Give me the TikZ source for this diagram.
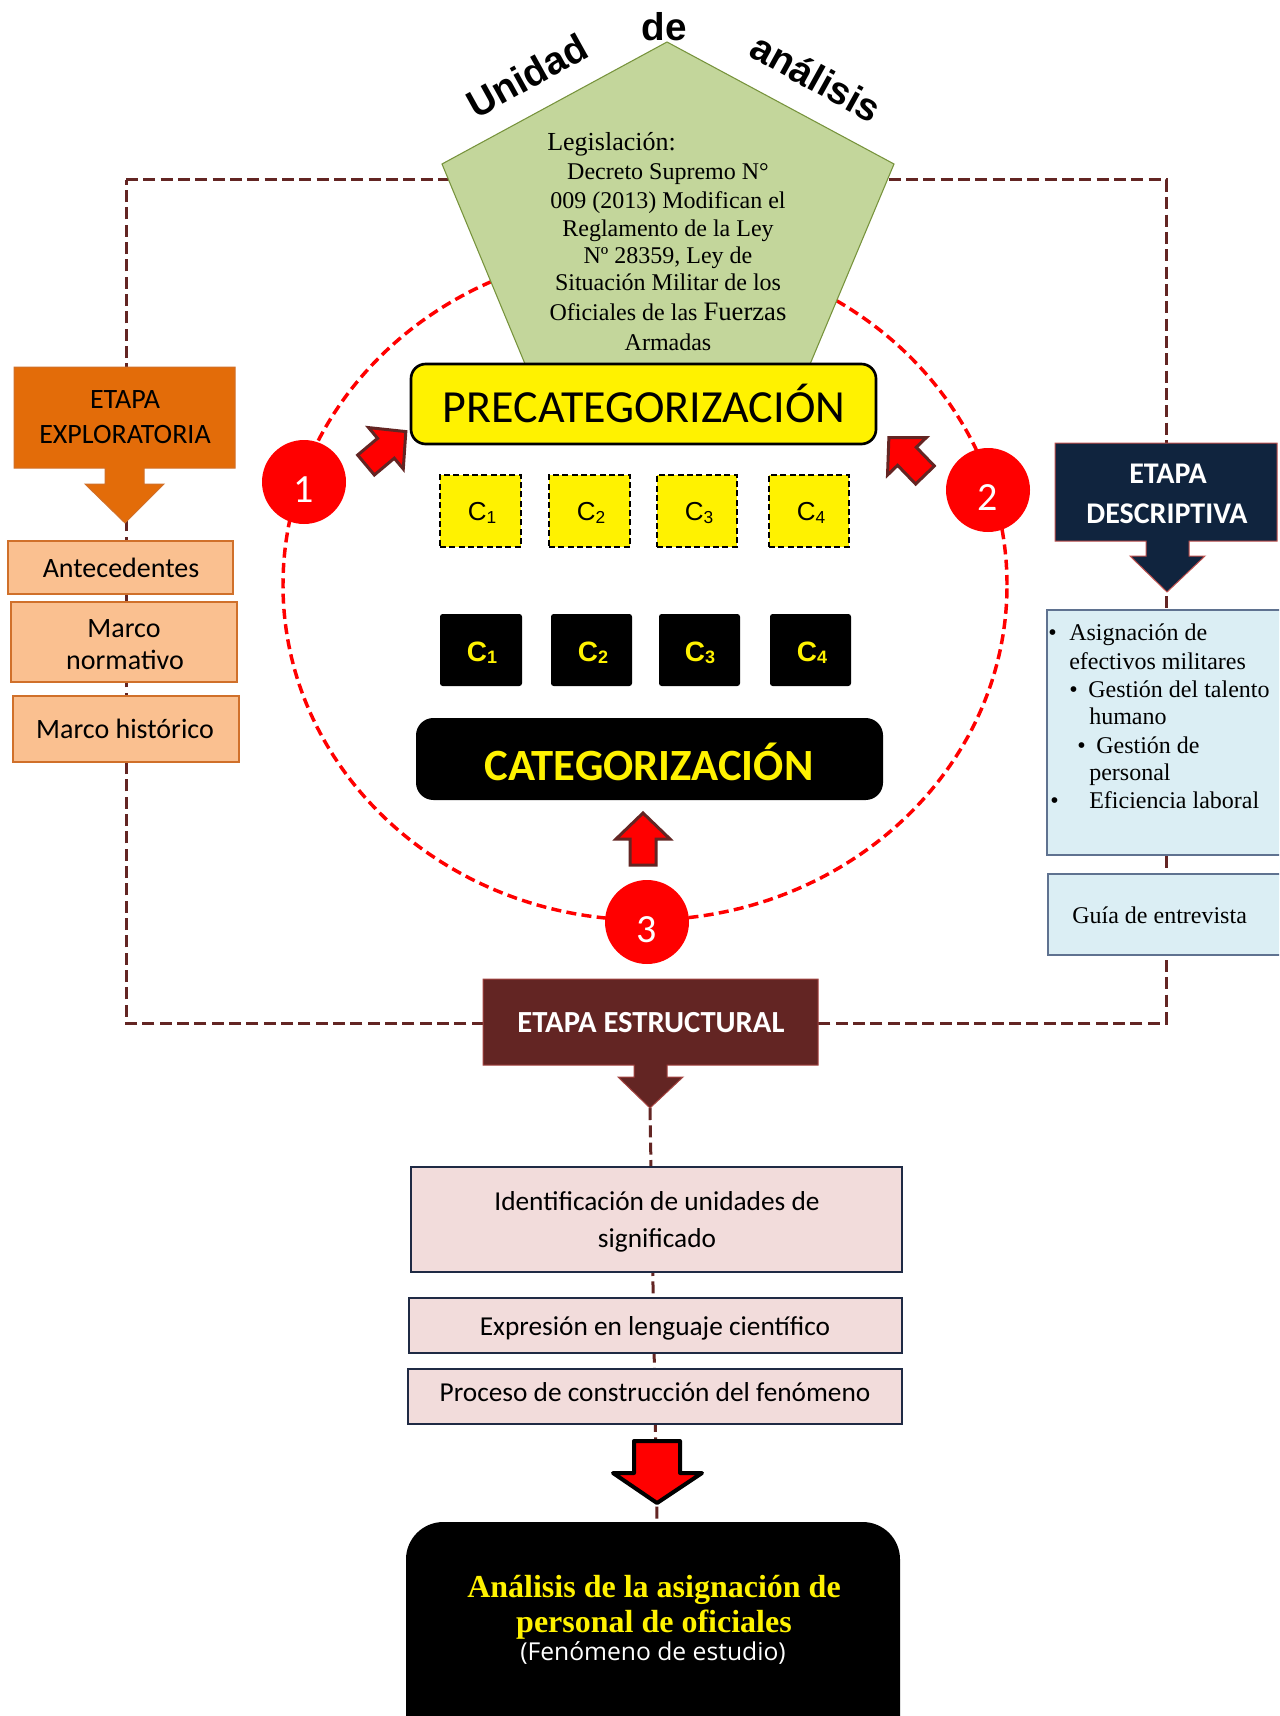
\documentclass[tikz,border=0pt]{standalone}
\usepackage{fontspec}
\setmainfont{Liberation Serif}
\newfontfamily\calfont{Carlito}
\newfontfamily\arifont{Liberation Sans}
\newfontfamily\opsfont{Open Sans}
\usetikzlibrary{fit}
\definecolor{maroonc}{HTML}{632523}
\definecolor{pentfill}{HTML}{C3D69B}
\definecolor{pentdraw}{HTML}{77933C}
\definecolor{orangeD}{HTML}{E36C09}
\definecolor{orangeL}{HTML}{FAC090}
\definecolor{orangeB}{HTML}{D0702A}
\definecolor{navyc}{HTML}{10243E}
\definecolor{blueL}{HTML}{DBEEF4}
\definecolor{blueB}{HTML}{5F7290}
\definecolor{pinkL}{HTML}{F2DCDB}
\definecolor{pinkB}{HTML}{1F2A44}
\definecolor{redB}{HTML}{C0504D}
\newcommand{\Cs}[1]{C\raisebox{-2.5pt}{\fontsize{13}{13}\selectfont #1}}
\newcommand{\Cb}[1]{C\raisebox{-2pt}{\fontsize{13.5}{13.5}\selectfont #1}}
\tikzset{
  mdash/.style={draw=maroonc, line width=2.25pt, dash pattern=on 9pt off 4pt},
  rdash/.style={draw=red, line width=2.6pt, dash pattern=on 7.5pt off 4pt},
  txt/.style={inner sep=0pt, anchor=base},
  rbox/.style={inner sep=0pt},
  numcirc/.style={circle, fill=red, inner sep=0pt, minimum size=63pt},
  numtxt/.style={txt, font=\calfont\fontsize{30}{30}\selectfont, text=white},
  arrowsty/.style={fill=red, draw=maroonc, line width=2.25pt, line join=miter},
  blockarrow/.pic={\draw[arrowsty] (0,-13) -- (26,-13) -- (26,-27) -- (52,0) -- (26,27) -- (26,13) -- (0,13) -- cycle;},
  ycbox/.style={rbox, fill=yellow, draw=black, line width=1.5pt, dash pattern=on 4.5pt off 2.5pt},
  bcbox/.style={rbox, fill=black, rounded corners=2pt},
  ctxt/.style={txt, font=\arifont\fontsize{19.5}{19.5}\selectfont},
  bctxt/.style={txt, font=\arifont\bfseries\fontsize{21}{21}\selectfont, text=yellow},
  obox/.style={rbox, fill=orangeL, draw=orangeB, line width=0.9pt},
  otxt/.style={txt, font=\calfont\fontsize{21}{25}\selectfont},
  bbox/.style={rbox, fill=blueL, draw=blueB, line width=0.8pt},
  ltxt/.style={txt, anchor=base west, font=\fontsize{18}{20}\selectfont},
  pbox/.style={rbox, fill=pinkL, draw=pinkB, line width=0.9pt},
  ptxt/.style={txt, font=\calfont\fontsize{20.5}{24}\selectfont},
  legtxt/.style={txt, font=\fontsize{18}{21}\selectfont},
}
\begin{document}
\begin{tikzpicture}[x=0.75pt,y=-0.75pt]
\useasboundingbox (0,0) rectangle (1279,1716);
\clip (0,0) rectangle (1279,1716);
\fill[white] (0,0) rectangle (1279,1716);

% dashed stage loop
\coordinate (TL) at (126,180);
\coordinate (TR) at (1166,180);
\coordinate (BR) at (1166,1023);
\coordinate (BL) at (126,1023);
\draw[mdash] (TL) -- (TR) -- (BR) -- (BL) -- cycle;
\coordinate (EStip) at (650,1108);
\coordinate (FBtop) at (657,1522);
\draw[mdash] (EStip) -- (FBtop);

% red dashed ellipse
\draw[rdash] (645,585) ellipse [x radius=271.5pt, y radius=251.25pt];

% pentagon
\draw[fill=pentfill, draw=pentdraw, line width=0.8pt] (667,42) -- (894,164) -- (795,400) -- (540,400) -- (442,164) -- cycle;
\node[txt, rotate=29, anchor=center, text height=20pt, text depth=0pt, font=\arifont\bfseries\fontsize{29}{29}\selectfont] (u1) at (527,76) {Unidad};
\node[txt, font=\arifont\bfseries\fontsize{29}{29}\selectfont] (u2) at (664,41) {de};
\node[txt, rotate=-29, anchor=center, text height=20pt, text depth=0pt, font=\arifont\bfseries\fontsize{29}{29}\selectfont] (u3) at (816,78) {análisis};

\node[txt, anchor=base west, font=\fontsize{19.5}{21}\selectfont] (L0) at (547,151) {Legislación:};
\node[legtxt] (L1) at (668,180) {Decreto Supremo N°};
\node[legtxt] (L2) at (668,208) {009 (2013) Modifican el};
\node[legtxt] (L3) at (668,236) {Reglamento de la Ley};
\node[legtxt] (L4) at (668,263) {Nº 28359, Ley de};
\node[legtxt] (L5) at (668,290) {Situación Militar de los};
\node[legtxt] (L6) at (668,320) {Oficiales de las {\fontsize{20}{21}\selectfont Fuerzas}};
\node[legtxt] (L7) at (668,350) {Armadas};

% precategorizacion
\node[fit={(411,364) (876,444)}, rbox, fill=yellow, draw=black, line width=2pt, rounded corners=11pt] (pre) {};
\node[txt, font=\calfont\fontsize{34.5}{34}\selectfont] (preT) at (644,422) {PRECATEGORIZACIÓN};

% yellow C boxes
\node[fit={(440,475) (521,547)}, ycbox] (yc1) {};
\node[fit={(549,475) (630,547)}, ycbox] (yc2) {};
\node[fit={(657,475) (737,547)}, ycbox] (yc3) {};
\node[fit={(769,475) (849,547)}, ycbox] (yc4) {};
\node[ctxt] (yc1T) at (482,520) {\Cs{1}};
\node[ctxt] (yc2T) at (591,520) {\Cs{2}};
\node[ctxt] (yc3T) at (699,520) {\Cs{3}};
\node[ctxt] (yc4T) at (811,520) {\Cs{4}};

% black C boxes
\node[fit={(440,614) (522,686)}, bcbox] (bc1) {};
\node[fit={(551,614) (632,686)}, bcbox] (bc2) {};
\node[fit={(659,614) (740,686)}, bcbox] (bc3) {};
\node[fit={(770,614) (851,686)}, bcbox] (bc4) {};
\node[bctxt] (bc1T) at (482,661) {\Cb{1}};
\node[bctxt] (bc2T) at (593,661) {\Cb{2}};
\node[bctxt] (bc3T) at (700,661) {\Cb{3}};
\node[bctxt] (bc4T) at (812,661) {\Cb{4}};

% categorizacion
\node[fit={(416,718) (883,800)}, rbox, fill=black, rounded corners=13pt] (cat) {};
\node[txt, font=\calfont\bfseries\fontsize{33.5}{34}\selectfont, text=yellow] (catT) at (649,780) {CATEGORIZACIÓN};

% numbered circles
\node[numcirc] (n1) at (304,482) {};
\node[numtxt] (n1T) at (304,502) {1};
\node[numcirc] (n2) at (988,490) {};
\node[numtxt] (n2T) at (988,510) {2};
\node[numcirc] (n3) at (647,922) {};
\node[numtxt] (n3T) at (647,942) {3};

% block arrows
\path (366,465) pic[rotate=40] {blockarrow};
\path (925,475) pic[rotate=134] {blockarrow};
\path (643,865) pic[rotate=90] {blockarrow};

% ETAPA EXPLORATORIA
\draw[fill=orangeD, draw=orangeB, line width=0.75pt] (14,367) -- (235,367) -- (235,468) -- (144,468) -- (144,484) -- (164,484) -- (125,523) -- (85,484) -- (105,484) -- (105,468) -- (14,468) -- cycle;
\node[otxt] (exT1) at (125,408) {ETAPA};
\node[otxt] (exT2) at (125,443) {EXPLORATORIA};
\node[fit={(8,541) (233,594)}, obox] (ante) {};
\node[otxt] (anteT) at (121,577) {Antecedentes};
\node[fit={(11,602) (237,682)}, obox] (mnor) {};
\node[otxt] (mnorT1) at (124,637) {Marco};
\node[otxt] (mnorT2) at (125,669) {normativo};
\node[fit={(13,696) (239,762)}, obox] (mhis) {};
\node[otxt] (mhisT) at (125,738) {Marco histórico};

% ETAPA DESCRIPTIVA
\draw[fill=navyc, draw=redB, line width=0.75pt] (1055,443) -- (1277,443) -- (1277,541) -- (1189,541) -- (1189,556) -- (1205,556) -- (1167,592) -- (1130,556) -- (1146,556) -- (1146,541) -- (1055,541) -- cycle;
\node[txt, font=\calfont\bfseries\fontsize{22.5}{26}\selectfont, text=white] (deT1) at (1168,483) {ETAPA};
\node[txt, font=\calfont\bfseries\fontsize{22.5}{26}\selectfont, text=white] (deT2) at (1167,523) {DESCRIPTIVA};
\node[fit={(1047,610) (1300,855)}, bbox] (lista) {};
\node[ltxt] (l1b) at (1048,640) {•};
\node[ltxt] (l1) at (1069,640) {Asignación de};
\node[ltxt] (l1c) at (1069,669) {efectivos militares};
\node[ltxt] (l2b) at (1069,697) {•};
\node[ltxt] (l2) at (1088,697) {Gestión del talento};
\node[ltxt] (l2c) at (1089,724) {humano};
\node[ltxt] (l3b) at (1077,753) {•};
\node[ltxt] (l3) at (1096,753) {Gestión de};
\node[ltxt] (l3c) at (1089,780) {personal};
\node[ltxt] (l4b) at (1050,808) {•};
\node[ltxt] (l4) at (1089,808) {Eficiencia laboral};
\node[fit={(1048,874) (1300,955)}, bbox] (guia) {};
\node[ltxt] (guiaT) at (1072,923) {Guía de entrevista};

% ETAPA ESTRUCTURAL
\draw[fill=maroonc, draw=redB!70!maroonc, line width=0.75pt] (483,979) -- (818,979) -- (818,1065) -- (667,1065) -- (667,1077) -- (683,1077) -- (650,1108) -- (618,1077) -- (634,1077) -- (634,1065) -- (483,1065) -- cycle;
\node[txt, font=\calfont\bfseries\fontsize{23}{26}\selectfont, text=white] (esT) at (651,1032) {ETAPA ESTRUCTURAL};

% lower boxes
\node[fit={(411,1167) (902,1272)}, pbox] (ident) {};
\node[ptxt] (identT1) at (657,1210) {Identificación de unidades de};
\node[ptxt] (identT2) at (657,1247) {significado};
\node[fit={(409,1298) (902,1353)}, pbox] (expr) {};
\node[ptxt] (exprT) at (655,1335) {Expresión en lenguaje científico};
\node[fit={(408,1369) (902,1424)}, pbox] (proc) {};
\node[ptxt] (procT) at (655,1401) {Proceso de construcción del fenómeno};

% big red arrow
\draw[fill=red, draw=black, line width=3pt, line join=round] (634,1441) -- (680,1441) -- (680,1473) -- (702,1473) -- (657,1503) -- (613,1473) -- (634,1473) -- cycle;

% final box
\node[fit={(406,1522) (900,1790)}, rbox, fill=black, rounded corners=28pt] (fin) {};
\node[txt, font=\bfseries\fontsize{24}{28}\selectfont, text=yellow] (f1) at (654,1597) {Análisis de la asignación de};
\node[txt, font=\bfseries\fontsize{24}{28}\selectfont, text=yellow] (f2) at (654,1632) {personal de oficiales};
\node[txt, font=\opsfont\fontsize{18.5}{22}\selectfont, text=white] (f3) at (653,1660) {(Fenómeno de estudio)};
\end{tikzpicture}
\end{document}
